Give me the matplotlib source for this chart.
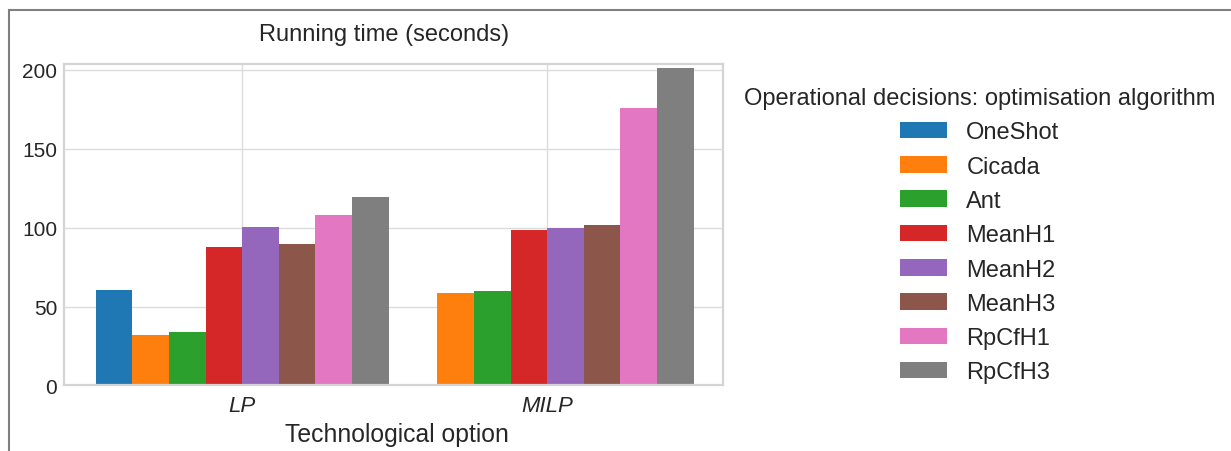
import numpy as np
import matplotlib
matplotlib.use("Agg")
import matplotlib.pyplot as plt
from matplotlib.patches import Rectangle

plt.rcParams["font.family"] = ["Liberation Sans", "DejaVu Sans"]
plt.rcParams["text.color"] = "#262626"
plt.rcParams["axes.labelcolor"] = "#262626"
plt.rcParams["xtick.color"] = "#262626"
plt.rcParams["ytick.color"] = "#262626"

# data
groups = ["LP", "MILP"]
algorithms = ["OneShot", "Cicada", "Ant", "MeanH1", "MeanH2", "MeanH3", "RpCfH1", "RpCfH3"]
lp_times = [60.4, 32.0, 33.7, 88.0, 100.6, 89.5, 108.3, 119.4]
milp_times = [np.nan, 58.8, 59.6, 98.3, 99.8, 101.5, 175.8, 201.4]
colors = ["#1f77b4", "#ff7f0e", "#2ca02c", "#d62728",
          "#9467bd", "#8c564b", "#e377c2", "#7f7f7f"]

fig = plt.figure(figsize=(12.31, 4.52), dpi=100)
ax = fig.add_axes([0.052, 0.145, 0.535, 0.711])

x = np.arange(len(groups))
width = 0.12
for i, name in enumerate(algorithms):
    vals = [lp_times[i], milp_times[i]]
    ax.bar(x + (i - 3.5) * width, vals, width, color=colors[i], label=name, zorder=2)

ax.set_xlim(-0.584, 1.575)
ax.set_ylim(0, 203.6)
ax.set_yticks([0, 50, 100, 150, 200])
ax.set_xticks(x)
ax.set_xticklabels(groups, fontstyle="italic")
ax.tick_params(axis="both", length=0, labelsize=15)
ax.tick_params(axis="x", pad=7, labelsize=16)
ax.tick_params(axis="y", pad=5)
ax.grid(True, color="#dcdcdc", linewidth=1.0, zorder=0)
ax.set_axisbelow(True)
for sp in ax.spines.values():
    sp.set_color("#d4d4d4")
    sp.set_linewidth(1.6)

ax.set_title("Running time (seconds)", fontsize=17, pad=17, x=0.486)
ax.set_xlabel("Technological option", fontsize=17.8, labelpad=5)
ax.xaxis.set_label_coords(0.505, -0.115)

leg = fig.legend(
    loc="upper center",
    bbox_to_anchor=(0.796, 0.852),
    title="Operational decisions: optimisation algorithm",
    fontsize=17,
    title_fontsize=17,
    frameon=False,
    handlelength=2.0,
    handleheight=0.7,
    labelspacing=0.52,
)

# grey frame round the picture, cut off at right and bottom
fig.add_artist(Rectangle((8.5 / 1231, -0.2), 1.5, 1.2 - 10.5 / 452,
                         transform=fig.transFigure, fill=False,
                         edgecolor="#7f7f7f", linewidth=1.5))

fig.savefig("out.png", dpi=100)
